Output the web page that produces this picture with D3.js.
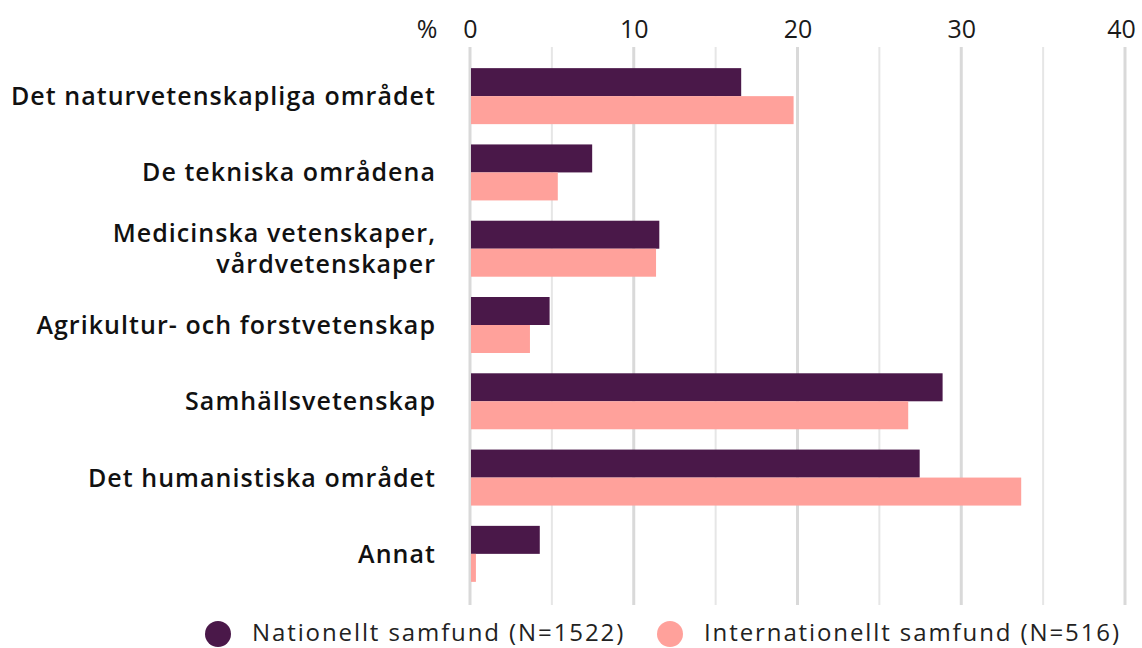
<!DOCTYPE html>
<html>
<head>
<meta charset="utf-8">
<script src="https://cdn.jsdelivr.net/npm/d3@7"></script>
<style>
  body { margin: 0; background: #fff; }
  svg { font-family: "Open Sans", sans-serif; }
</style>
</head>
<body>
<svg></svg>
<script>
let categories = [
  ["Det naturvetenskapliga området"],
  ["De tekniska områdena"],
  ["Medicinska vetenskaper,", "vårdvetenskaper"],
  ["Agrikultur- och forstvetenskap"],
  ["Samhällsvetenskap"],
  ["Det humanistiska området"],
  ["Annat"]
];
let seriesNames = ["Nationellt samfund (N=1522)", "Internationellt samfund (N=516)"];
let national = [16.5, 7.4, 11.5, 4.8, 28.8, 27.4, 4.2];
let international = [19.7, 5.3, 11.3, 3.6, 26.7, 33.6, 0.3];
let tickValues = [0, 10, 20, 30, 40];
let gridValues = [0, 5, 10, 15, 20, 25, 30, 35, 40];
let colors = ["#4a1849", "#ffa19b"];

let width = 1142;
let height = 648;

let svg = d3.select("svg").attr("width", width).attr("height", height);

let keys = categories.map((c, i) => i);

let xScale = d3.scaleLinear().domain([0, 40]).range([470, 1125]);
let yScale = d3.scaleBand().domain(keys).range([58, 592]).paddingInner(0.266).paddingOuter(0.133);
let subScale = d3.scaleBand().domain([0, 1]).range([0, yScale.bandwidth()]);

// grid
svg.append("g")
  .selectAll("line")
  .data(gridValues)
  .enter()
  .append("line")
  .attr("x1", d => xScale(d))
  .attr("x2", d => xScale(d))
  .attr("y1", 47)
  .attr("y2", 605)
  .attr("stroke", d => d % 10 === 0 ? "#d9d9d9" : "#e6e6e6")
  .attr("stroke-width", d => d % 10 === 0 ? 3 : 2);

// top axis labels
let xAxis = d3.axisTop(xScale).tickValues(tickValues).tickSize(0).tickPadding(0);
let axisG = svg.append("g")
  .attr("transform", "translate(0, 38)")
  .call(xAxis);
axisG.select(".domain").remove();
axisG.selectAll("text")
  .attr("font-size", 25)
  .attr("font-family", "Open Sans")
  .attr("fill", "#1a1a1a");
axisG.selectAll(".tick:last-child text").attr("dx", -4);

svg.append("text")
  .attr("x", 427)
  .attr("y", 38)
  .attr("text-anchor", "middle")
  .attr("font-size", 25)
  .attr("fill", "#1a1a1a")
  .text("%");

// bars
let rows = keys.map(i => [national[i], international[i]]);
let groups = svg.append("g")
  .selectAll("g")
  .data(rows)
  .enter()
  .append("g")
  .attr("transform", (d, i) => "translate(0," + yScale(i) + ")");

groups.selectAll("rect")
  .data(d => d)
  .enter()
  .append("rect")
  .attr("x", xScale(0) + 1)
  .attr("y", (d, j) => subScale(j))
  .attr("height", subScale.bandwidth())
  .attr("width", d => xScale(d) - xScale(0))
  .attr("fill", (d, j) => colors[j]);

// category labels
let labels = svg.append("g")
  .selectAll("text")
  .data(categories)
  .enter()
  .append("text")
  .attr("text-anchor", "end")
  .attr("font-size", 25)
  .attr("font-weight", 600)
  .attr("letter-spacing", 1.05)
  .attr("fill", "#111")
  .attr("transform", (d, i) => "translate(436," + (yScale(i) + yScale.bandwidth() / 2) + ")");

labels.each(function (lines) {
  let t = d3.select(this);
  let lh = 31;
  lines.forEach((line, k) => {
    t.append("tspan")
      .attr("x", 0)
      .attr("y", (k - (lines.length - 1) / 2) * lh + 9)
      .text(line);
  });
});

// legend
let legendX = [218, 670];
let legend = svg.append("g")
  .selectAll("g")
  .data(seriesNames)
  .enter()
  .append("g")
  .attr("transform", (d, i) => "translate(" + legendX[i] + ",634)");

legend.append("circle")
  .attr("r", 13)
  .attr("fill", (d, i) => colors[i]);

legend.append("text")
  .attr("x", 34)
  .attr("y", 7)
  .attr("font-size", 24)
  .attr("letter-spacing", 1.9)
  .attr("fill", "#222")
  .text(d => d);
</script>
</body>
</html>
